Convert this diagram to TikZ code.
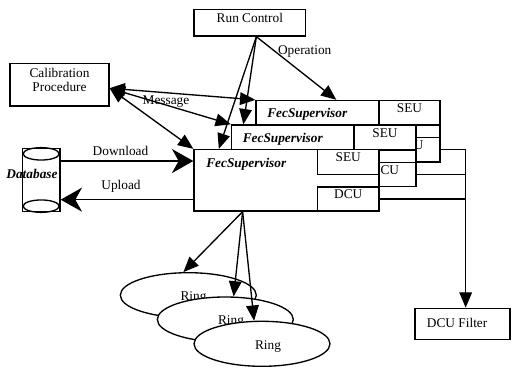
\documentclass[tikz,border=0pt]{standalone}
\usepackage{fontspec}
\setmainfont{Liberation Serif}
\usetikzlibrary{arrows.meta,calc,fit,shapes.geometric}
\begin{document}
\begin{tikzpicture}[x=0.75pt,y=-0.75pt,
  every node/.style={font=\fontsize{10}{11}\selectfont},
  box/.style={draw, line width=1pt, fill=white, inner sep=0pt},
  lbl/.style={inner sep=0pt},
  fec/.style={inner sep=0pt, anchor=west, font=\fontsize{10}{11}\selectfont\bfseries\itshape},
  conn/.style={line width=1pt},
  arr/.style={conn, -{Triangle[length=11.5pt,width=9.5pt]}},
  barr/.style={conn, -{Stealth[length=16pt,width=18pt,inset=5pt]}},
  darr/.style={conn, {Triangle[length=11.5pt,width=9.5pt]}-{Triangle[length=11.5pt,width=9.5pt]}},
  ring/.style={draw, ellipse, line width=1pt, fill=white, minimum width=102pt, minimum height=33.75pt, inner sep=0pt}
]
\useasboundingbox (0,0) rectangle (511,367);

% top boxes
\node[box, fit={(194,9.3) (305.7,36)}] (rc) {Run Control};
\node[box, fit={(10,63.3) (109,106)}, align=center] (cal) {Calibration\\Procedure};

% back FecSupervisor
\node[box, fit={(256,100.5) (440,162)}] (B) {};
\node[box, fit={(379,100.5) (440,125)}] (BS) {SEU};
\node[box, fit={(379,137.5) (440,162)}] (BD) {DCU};
\node[fec] (BL) at (267,114) {FecSupervisor};

% middle FecSupervisor
\node[box, fit={(231.5,125) (416,186.5)}] (M) {};
\node[box, fit={(354,125) (416,150)}] (MS) {SEU};
\node[box, fit={(354,162.5) (416,186.5)}] (MD) {DCU};
\node[fec] (ML) at (242.5,139.5) {FecSupervisor};

% front FecSupervisor
\node[box, fit={(194,149.5) (379,211)}] (F) {};
\node[box, fit={(317.5,149.5) (379,174.5)}] (FS) {SEU};
\node[box, fit={(317.5,187) (379,211)}] (FD) {DCU};
\node[fec] (FL) at (206,164) {FecSupervisor};

% database
\node[box, fit={(22.3,148.3) (60,211.7)}] (db) {};
\draw[conn] ($(db.north)+(0,6.2)$) ellipse [x radius=18, y radius=6.2];
\draw[conn] ($(db.south)+(0,-6.2)$) ellipse [x radius=18, y radius=6.2];
\node[fec, anchor=center] (dbl) at (32,174.3) {Database};

% DCU filter
\node[box, fit={(415,308.3) (510,339.3)}] (flt) {};
\node[lbl, anchor=west] (fltl) at (426.7,323.3) {DCU Filter};

% rings
\node[ring] (r1) at (188.3,295.2) {};
\node[lbl] (r1l) at (193.5,297.5) {Ring};
\node[ring] (r2) at (225.3,319.5) {};
\node[lbl] (r2l) at (231,322) {Ring};
\node[ring] (r3) at (262,343.8) {};
\node[lbl] (r3l) at (268,346.5) {Ring};

% labels
\node[lbl] (op) at (304.7,51.7) {Operation};
\node[lbl] (msg) at (166,101.7) {Message};
\node[lbl] (dl) at (120.5,151) {Download};
\node[lbl] (ul) at (121,186.7) {Upload};

% run control connectors
\coordinate (rco) at ($(rc.south)+(6.5,0)$);
\draw[arr] (rco) -- ($(B.north west)+(81,0)$);
\draw[arr] (rco) -- ($(M.north west)+(12.5,0)$);
\draw[arr] (rco) -- ($(F.north west)+(25.5,0)$);

% calibration connectors
\coordinate (cao) at ($(cal.east)+(0,3.6)$);
\draw[darr] (cao) -- (B.north west);
\draw[darr] (cao) -- (M.north west);
\draw[darr] (cao) -- (F.north west);

% database connectors
\coordinate (dls) at ($(db.north east)+(0,13.4)$);
\draw[barr] (dls) -- (dls -| F.west);
\coordinate (uls) at ($(F.south west)+(0,-12)$);
\draw[barr] (uls) -- (uls -| db.east);

% DCU connectors
\coordinate (j) at ($(BD.east)+(25,0)$);
\draw[arr] (BD.east) -- (j) -- (j |- flt.north);
\draw[conn] (MD.east) -- (MD.east -| j);
\draw[conn] (FD.east) -- (FD.east -| j);

% ring connectors
\coordinate (rs) at ($(F.south west)+(49.3,0)$);
\draw[arr] (rs) -- (r1.102.5);
\draw[arr] (rs) -- (r2.70.7);
\draw[arr] (rs) -- (r3.109.4);
\end{tikzpicture}
\end{document}
